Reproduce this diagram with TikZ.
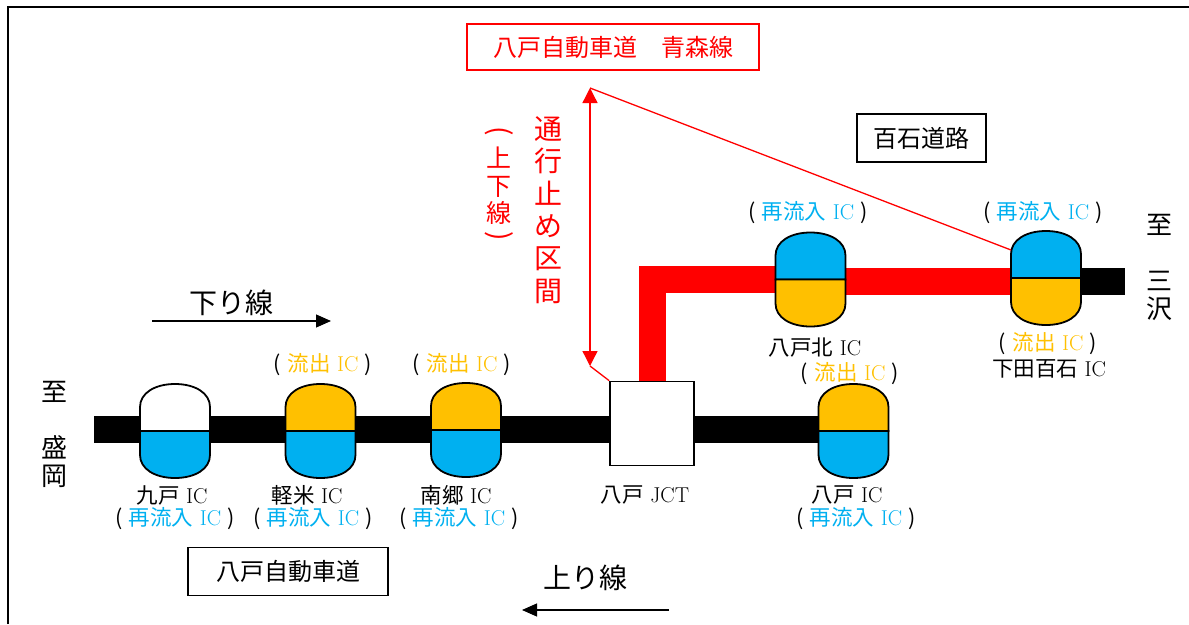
\documentclass[tikz,border=0pt]{standalone}
\usepackage{fontspec}
\usetikzlibrary{arrows.meta}
\newfontfamily\cjk{Noto Sans CJK JP}
\definecolor{icblue}{HTML}{00B0F0}
\definecolor{icorange}{HTML}{FFC000}
\pgfdeclarelayer{background}
\pgfsetlayers{background,main}
\newcommand{\icin}{{\cjk (}\hspace{6.5pt}\textcolor{icblue}{{\cjk 再流入} IC}\hspace{6.5pt}{\cjk )}}
\newcommand{\icout}{{\cjk (}\hspace{6.5pt}\textcolor{icorange}{{\cjk 流出} IC}\hspace{6.5pt}{\cjk )}}
% upper half and lower half of one interchange
\newcommand{\icpill}[3]{
	\begin{scope}[shift={(#1.center)}]
		\draw[pill_line,fill=#2] (-35,0) -- (-35,-24) .. controls (-35,-38) and (-20,-47) .. (0,-47) .. controls (20,-47) and (35,-38) .. (35,-24) -- (35,0) -- cycle;
		\draw[pill_line,fill=#3] (-35,0) -- (-35,24) .. controls (-35,38) and (-20,47) .. (0,47) .. controls (20,47) and (35,38) .. (35,24) -- (35,0) -- cycle;
	\end{scope}
}
\begin{document}
\begin{tikzpicture}[x=1pt,y=-1pt,
	pill_node/.style={minimum width=70pt,minimum height=94pt,inner sep=0pt},
	pill_line/.style={draw=black,line width=1.8pt},
	road_black/.style={line width=27pt,draw=black},
	road_red/.style={line width=27pt,draw=red},
	small_label/.style={inner sep=0pt,font=\fontsize{21.5}{23}\selectfont},
	place_label/.style={inner sep=0pt,align=center,font=\cjk\fontsize{26}{28}\selectfont},
	black_box/.style={draw=black,line width=1.5pt,inner sep=0pt,minimum height=48pt,font=\cjk\fontsize{24}{28}\selectfont},
	red_box/.style={draw=red,line width=1.5pt,inner sep=0pt,text=red,minimum height=46pt,font=\cjk\fontsize{24}{28}\selectfont},
	dir_label/.style={inner sep=0pt,font=\cjk\fontsize{28}{30}\selectfont},
	dir_arrow/.style={line width=1.2pt,-{Triangle[length=15pt,width=13pt]}},
	paren_mark/.style={inner sep=0pt,text=red,font=\cjk\fontsize{28}{30}\selectfont},
	leader/.style={draw=red,line width=1.3pt}]
	\useasboundingbox (0,0) rectangle (1189,624);

	\draw[line width=2.2pt] (8,624) -- (8,7) -- (1189,7);

	\node[pill_node] (kunohe) at (175,431) {};
	\node[pill_node] (karumai) at (320.5,431) {};
	\node[pill_node] (nango) at (466,430) {};
	\node[pill_node] (hachinohe) at (853.5,431) {};
	\node[pill_node] (kita) at (810.5,279.5) {};
	\node[pill_node] (shimoda) at (1046,278) {};
	\node[draw=black,fill=white,line width=1.7pt,minimum size=84pt,inner sep=0pt] (jct) at (652,423.5) {};

	\coordinate (morioka_end) at (94,429.5);
	\coordinate (shimoda_road) at (1046,281.5);
	\coordinate (misawa_end) at (1125,281.5);
	\coordinate (arrow_top) at (590,88);
	\coordinate (arrow_low) at (590,366);
	\coordinate (shimoda_edge) at (1011,250);

	\begin{pgfonlayer}{background}
		\draw[road_black] (morioka_end) -- (morioka_end -| hachinohe);
		\draw[road_black] (shimoda_road) -- (misawa_end);
		\draw[road_red] (jct) |- (kita);
		\draw[road_red] (kita |- shimoda_road) -- (shimoda_road);
	\end{pgfonlayer}

	\icpill{kunohe}{white}{icblue}
	\icpill{karumai}{icorange}{icblue}
	\icpill{nango}{icorange}{icblue}
	\icpill{hachinohe}{icorange}{icblue}
	\icpill{kita}{icblue}{icorange}
	\icpill{shimoda}{icblue}{icorange}

	\draw[leader] (jct.north west) -- (arrow_low);
	\draw[leader,{Triangle[length=15pt,width=15pt]}-{Triangle[length=15pt,width=15pt]}] (arrow_low) -- (arrow_top);
	\draw[leader] (arrow_top) -- (shimoda_edge);

	\node[red_box,minimum width=292pt] (aomori_box) at (613,47) {八戸自動車道　青森線};
	\node[black_box,minimum width=129pt] (momoishi_box) at (921.5,138) {百石道路};
	\node[black_box,minimum width=200pt] (hachinohe_box) at (288,571.5) {八戸自動車道};

	\node[inner sep=0pt,align=center,text=red,font=\cjk\fontsize{28}{32.3}\selectfont] (closed_label) at (548.5,210) {通\\行\\止\\め\\区\\間};
	\node[inner sep=0pt,align=center,text=red,font=\cjk\fontsize{25}{27.5}\selectfont] (both_label) at (499,186) {上\\下\\線};
	\node[paren_mark] (both_open) at (499,133) {\rotatebox[origin=c]{-90}{(}};
	\node[paren_mark] (both_close) at (499,238) {\rotatebox[origin=c]{-90}{)}};

	\node[place_label] (morioka_label) at (54,434) {至\\ \\盛\\岡};
	\node[place_label] (misawa_label) at (1159,267) {至\\ \\三\\沢};

	\node[dir_label] (down_label) at (231,303) {下り線};
	\node[dir_label] (up_label) at (585.5,578) {上り線};
	\coordinate (down_start) at (152,321);
	\coordinate (down_end) at (331,321);
	\coordinate (up_start) at (669,610);
	\coordinate (up_end) at (522,610);
	\draw[dir_arrow] (down_start) -- (down_end);
	\draw[dir_arrow] (up_start) -- (up_end);

	\node[small_label] (kunohe_name) at (172,495) {{\cjk 九戸} IC};
	\node[small_label] (kunohe_in) at (175,519) {\icin};
	\node[small_label] (karumai_name) at (307,495) {{\cjk 軽米} IC};
	\node[small_label] (karumai_in) at (313,519) {\icin};
	\node[small_label] (karumai_out) at (323,365) {\icout};
	\node[small_label] (nango_name) at (456,495) {{\cjk 南郷} IC};
	\node[small_label] (nango_in) at (459,519) {\icin};
	\node[small_label] (nango_out) at (462,365) {\icout};
	\node[small_label] (jct_name) at (645,495) {{\cjk 八戸} JCT};
	\node[small_label] (hachinohe_name) at (847,495) {{\cjk 八戸} IC};
	\node[small_label] (hachinohe_in) at (856,519) {\icin};
	\node[small_label] (hachinohe_out) at (850,374) {\icout};
	\node[small_label] (kita_name) at (815,348) {{\cjk 八戸北} IC};
	\node[small_label] (kita_in) at (808,213) {\icin};
	\node[small_label] (shimoda_in) at (1043,213) {\icin};
	\node[small_label] (shimoda_out) at (1048,344) {\icout};
	\node[small_label] (shimoda_name) at (1049,369) {{\cjk 下田百石} IC};
\end{tikzpicture}
\end{document}
